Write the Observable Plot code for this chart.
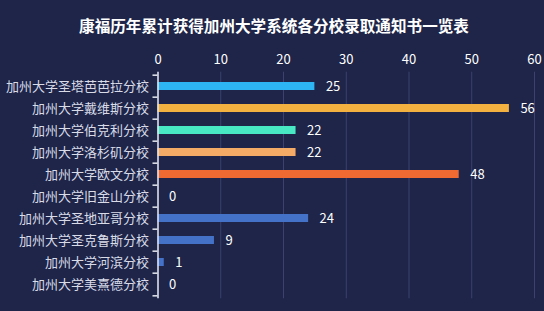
<!DOCTYPE html>
<html><head><meta charset="utf-8">
<script src="https://cdn.jsdelivr.net/npm/d3@7"></script>
<script src="https://cdn.jsdelivr.net/npm/@observablehq/plot@0.6"></script>
<style>
html,body{margin:0;padding:0;background:#1e2548;width:544px;height:311px;overflow:hidden;}
#title{box-sizing:border-box;height:40px;padding-top:14px;padding-left:4px;line-height:22px;font-size:15.6px;font-weight:bold;color:#ffffff;text-align:center;font-family:"Noto Sans CJK SC",sans-serif;}
</style></head><body>
<div id="title">康福历年累计获得加州大学系统各分校录取通知书一览表</div>
<div id="chart"></div>
<script>
const schools = ["加州大学圣塔芭芭拉分校","加州大学戴维斯分校","加州大学伯克利分校","加州大学洛杉矶分校","加州大学欧文分校","加州大学旧金山分校","加州大学圣地亚哥分校","加州大学圣克鲁斯分校","加州大学河滨分校","加州大学美熹德分校"];
const counts = [25,56,22,22,48,0,24,9,1,0];
const barColors = ["#2cb5f2","#f3b23f","#47e8c3","#f4ab66","#ef6a32","#4472c8","#4472c8","#4472c8","#4472c8","#4472c8"];
const xTicks = [0,10,20,30,40,50,60];

const data = schools.map((s,i)=>({school:s,count:counts[i],color:barColors[i]}));
const H = 271, mt = 31.7, mb = 12.7;
const step = (H-mt-mb)/schools.length;

const chart = Plot.plot({
  width:544, height:H,
  marginTop:mt, marginBottom:mb, marginLeft:157.5, marginRight:10,
  style:{background:"transparent",color:"#ffffff",fontFamily:"'Noto Sans CJK SC',sans-serif",fontSize:"13px"},
  x:{domain:[0,60],axis:null},
  y:{domain:schools,paddingInner:0.65,paddingOuter:0.325,axis:null},
  marks:[
    Plot.gridX(xTicks,{stroke:"#3b4270",strokeOpacity:1,strokeWidth:1}),
    Plot.axisX(xTicks,{anchor:"top",tickSize:0,tickPadding:8,fill:"#ffffff",fontSize:13,label:null}),
    Plot.axisY({tickSize:0,tickPadding:9,fill:"#d9dce8",fontSize:13,label:null}),
    Plot.barX(data,{y:"school",x:"count",fill:"color"}),
    Plot.ruleX([0],{stroke:"#e6e8f0",strokeWidth:1.5}),
    Plot.ruleY(schools,{y:d=>d,x1:-0.8,x2:0,dy:-step/2,stroke:"#e6e8f0",strokeWidth:1.5}),
    Plot.ruleY([schools[schools.length-1]],{y:d=>d,x1:-0.8,x2:0,dy:step/2,stroke:"#e6e8f0",strokeWidth:1.5}),
    Plot.text(data,{y:"school",x:"count",text:d=>String(d.count),dx:11,textAnchor:"start",fill:"#ffffff",fontSize:13})
  ]
});
document.getElementById("chart").appendChild(chart);
</script>
</body></html>
